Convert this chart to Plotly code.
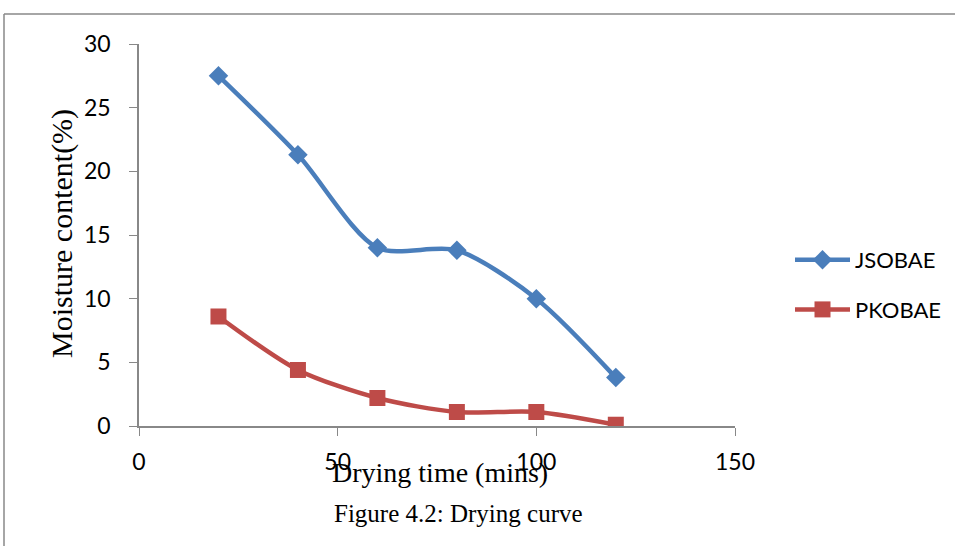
import plotly.graph_objects as go

# Drying time (mins)
drying_time = [20, 40, 60, 80, 100, 120]
# Moisture content (%) for each sample
jsobae = [27.5, 21.3, 14.0, 13.8, 10.0, 3.8]
pkobae = [8.6, 4.4, 2.2, 1.1, 1.1, 0.1]

x_ticks = [0, 50, 100, 150]
y_ticks = [0, 5, 10, 15, 20, 25, 30]

W, H = 955, 546
L, R, T, B = 139, 220, 44, 120
pw, ph = W - L - R, H - T - B

def px(x):
    return (x - L) / pw

def py(y):
    return (H - B - y) / ph

fig = go.Figure()
fig.add_trace(go.Scatter(
    x=drying_time, y=jsobae, name="JSOBAE", mode="lines+markers",
    legendgroup="a",
    line=dict(color="#4A7EBB", width=4.5, shape="spline", smoothing=0.8),
    marker=dict(symbol="diamond", size=15, color="#4A7EBB"),
))
fig.add_trace(go.Scatter(
    x=drying_time, y=pkobae, name="PKOBAE", mode="lines+markers",
    legendgroup="b",
    line=dict(color="#BE4B48", width=4.5, shape="spline", smoothing=0.8),
    marker=dict(symbol="square", size=16, color="#BE4B48"),
))

tick_font = dict(family="Lato, 'Open Sans', sans-serif", size=23, color="#000")
legend_font = dict(family="Lato, 'Open Sans', sans-serif", size=22, color="#000")
serif = "'Liberation Serif', 'Times New Roman', serif"

fig.update_layout(
    width=W, height=H,
    margin=dict(l=L, r=R, t=T, b=B, autoexpand=False),
    paper_bgcolor="white", plot_bgcolor="white",
    showlegend=True,
    legend=dict(x=px(790), y=py(285), xanchor="left", yanchor="middle",
                font=legend_font, bgcolor="rgba(0,0,0,0)",
                traceorder="grouped", tracegroupgap=18,
                itemwidth=55, itemsizing="trace"),
    xaxis=dict(range=[0, 150], tickvals=x_ticks, showgrid=False, zeroline=False,
               showline=True, linecolor="#888", linewidth=1.5,
               ticks="outside", ticklen=8, tickcolor="#888",
               tickfont=tick_font, ticklabelstandoff=7, automargin=False),
    yaxis=dict(range=[0, 30], tickvals=y_ticks, showgrid=False, zeroline=False,
               showline=True, linecolor="#888", linewidth=1.5,
               ticks="outside", ticklen=8, tickcolor="#888",
               tickfont=tick_font, ticklabelstandoff=14, automargin=False),
    annotations=[
        dict(text="Drying time (mins)", xref="paper", yref="paper",
             x=px(440), y=py(472), xanchor="center", yanchor="middle",
             showarrow=False, font=dict(family=serif, size=28, color="#000")),
        dict(text="Moisture content(%)", xref="paper", yref="paper",
             x=px(62), y=py(234), xanchor="center", yanchor="middle",
             textangle=-90, showarrow=False,
             font=dict(family=serif, size=30, color="#000")),
        dict(text="Figure 4.2: Drying curve", xref="paper", yref="paper",
             x=px(458), y=py(513), xanchor="center", yanchor="middle",
             showarrow=False, font=dict(family=serif, size=25, color="#000")),
    ],
    shapes=[
        dict(type="line", xref="paper", yref="paper",
             x0=px(4), x1=px(960), y0=py(14), y1=py(14),
             line=dict(color="#888", width=1.5)),
        dict(type="line", xref="paper", yref="paper",
             x0=px(4), x1=px(4), y0=py(14), y1=py(550),
             line=dict(color="#888", width=1.5)),
    ],
)

fig.write_html("out.html")
